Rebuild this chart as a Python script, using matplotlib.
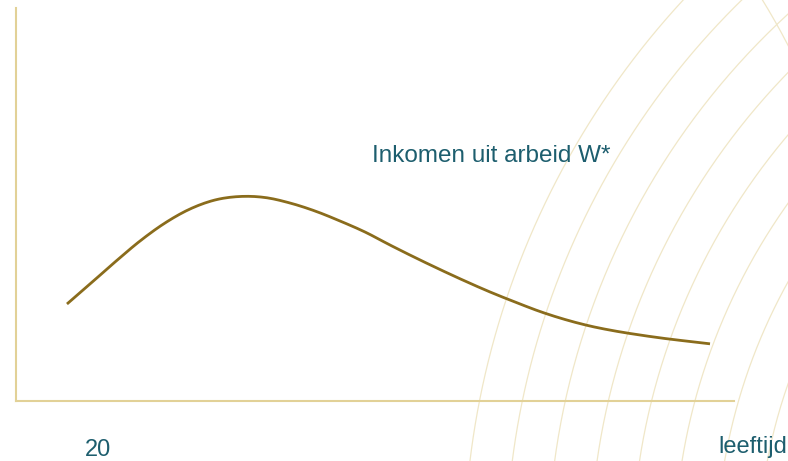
import numpy as np
import matplotlib
matplotlib.use("Agg")
import matplotlib.pyplot as plt

plt.rcParams['font.family'] = ['Liberation Sans', 'DejaVu Sans']

# income from labour over the life cycle (arbitrary units)
leeftijd = [7.10, 10.31, 13.79, 17.27, 20.75, 24.23, 27.72, 31.20, 34.68, 38.16,
            41.64, 45.13, 48.61, 52.09, 55.57, 59.05, 62.53, 66.02, 69.50, 72.98,
            76.46, 79.94, 83.43, 86.91, 90.39, 93.87, 96.66]
inkomen = [24.68, 29.77, 35.37, 40.71, 45.29, 48.85, 51.15, 52.04, 51.78, 50.38,
           48.35, 45.80, 43.00, 39.69, 36.51, 33.46, 30.53, 27.74, 25.19, 22.77,
           20.74, 19.08, 17.81, 16.79, 15.90, 15.14, 14.55]

curve_label = "Inkomen uit arbeid W*"
start_label = "20"
x_label = "leeftijd"


def smooth(xs, ys, n=12):
    # Catmull-Rom through every point so the line has no corners
    p = np.column_stack([xs, ys])
    p = np.vstack([2 * p[0] - p[1], p, 2 * p[-1] - p[-2]])
    out = []
    s = np.linspace(0, 1, n, endpoint=False)[:, None]
    for i in range(1, len(p) - 2):
        p0, p1, p2, p3 = p[i - 1], p[i], p[i + 1], p[i + 2]
        out.append(0.5 * (2 * p1 + (-p0 + p2) * s + (2 * p0 - 5 * p1 + 4 * p2 - p3) * s ** 2
                          + (-p0 + 3 * p1 - 3 * p2 + p3) * s ** 3))
    out.append(p[-2][None, :])
    out = np.vstack(out)
    return out[:, 0], out[:, 1]


W, H = 788, 461
fig = plt.figure(figsize=(W / 100, H / 100), dpi=100)

# decorative background rings, in pixel units
bg = fig.add_axes([0, 0, 1, 1])
bg.set_xlim(0, W)
bg.set_ylim(H, 0)
bg.axis('off')
t = np.linspace(0, 2 * np.pi, 2000)
cx, cy = 1289, 560
for k in range(9):
    r = 825 - 42 * k
    bg.plot(cx + r * np.cos(t), cy + r * np.sin(t), color='#f0e7c8', lw=0.9)
bg.plot(160 + 707 * np.cos(t), 370 + 707 * np.sin(t), color='#f0e7c8', lw=0.9)

# main chart
ax = fig.add_axes([16 / W, (H - 401) / H, (734 - 16) / W, (401 - 8) / H])
ax.patch.set_alpha(0)
ax.set_xlim(0, 100)
ax.set_ylim(0, 100)
sx, sy = smooth(leeftijd, inkomen)
ax.plot(sx, sy, color='#8a6c1c', lw=2.0, solid_capstyle='butt')
for side in ['top', 'right']:
    ax.spines[side].set_visible(False)
for side in ['left', 'bottom']:
    ax.spines[side].set_color('#e2d197')
    ax.spines[side].set_linewidth(1.5)
ax.set_xticks([])
ax.set_yticks([])

teal = '#1d5e6e'
fig.text(372 / W, 1 - 156 / H, curve_label, color=teal, fontsize=17.5,
         ha='left', va='center')
fig.text(98 / W, 1 - 456 / H, start_label, color=teal, fontsize=17,
         ha='center', va='baseline')
fig.text(718 / W, 1 - 453 / H, x_label, color=teal, fontsize=17,
         ha='left', va='baseline')

fig.savefig("out.png", dpi=100)
